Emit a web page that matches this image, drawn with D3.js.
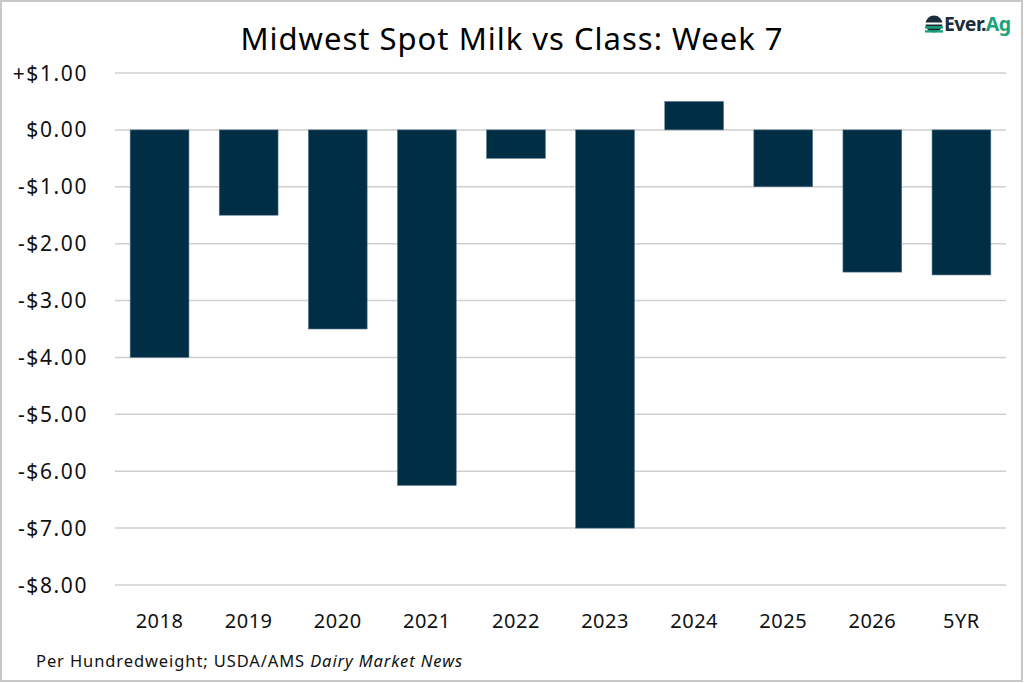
<html>
  <head>
    <script src="https://d3js.org/d3.v7.min.js"></script>
    <style>
      body { margin: 0; background: #fff; }
      text { font-family: "Noto Sans", "Open Sans", sans-serif; }
    </style>
  </head>
  <body>
    <svg id="chart" width="1024" height="683"></svg>
    <script>
      const categories = ["2018", "2019", "2020", "2021", "2022", "2023", "2024", "2025", "2026", "5YR"];
      const values = [-4.0, -1.5, -3.5, -6.25, -0.5, -7.0, 0.5, -1.0, -2.5, -2.55];
      const tickValues = [1, 0, -1, -2, -3, -4, -5, -6, -7, -8];

      const svg = d3.select("#chart");
      const barColor = "#002f45";

      // outer frame
      svg.append("rect")
        .attr("x", 1).attr("y", 1)
        .attr("width", 1021).attr("height", 680)
        .attr("fill", "#fff")
        .attr("stroke", "#c8c8c8")
        .attr("stroke-width", 2);

      const plotLeft = 115, plotRight = 1006, plotTop = 73, plotBottom = 585;

      const x = d3.scaleBand()
        .domain(categories)
        .range([plotLeft, plotRight])
        .paddingInner(0.34)
        .paddingOuter(0.17);
      const y = d3.scaleLinear()
        .domain([-8, 1])
        .range([plotBottom, plotTop]);

      // gridlines
      svg.append("g")
        .selectAll("line")
        .data(tickValues)
        .enter()
        .append("line")
        .attr("x1", plotLeft).attr("x2", plotRight)
        .attr("y1", d => y(d)).attr("y2", d => y(d))
        .attr("stroke", "#cfcfcf")
        .attr("stroke-width", 1.5);

      // y labels
      const fmt = d => (d > 0 ? "+$" : d < 0 ? "-$" : "$") + Math.abs(d).toFixed(2);
      svg.append("g")
        .selectAll("text")
        .data(tickValues)
        .enter()
        .append("text")
        .attr("x", 88)
        .attr("y", d => y(d))
        .attr("dy", "0.36em")
        .attr("text-anchor", "end")
        .attr("font-size", 21)
        .attr("letter-spacing", 1.6)
        .attr("fill", "#111")
        .text(fmt);

      // bars
      svg.append("g")
        .selectAll("rect")
        .data(values)
        .enter()
        .append("rect")
        .attr("x", (d, i) => x(categories[i]))
        .attr("y", d => y(Math.max(0, d)))
        .attr("width", x.bandwidth())
        .attr("height", d => Math.abs(y(d) - y(0)))
        .attr("fill", barColor)
        .attr("stroke", "#5b7a8c")
        .attr("stroke-width", 0.6);

      // x labels
      svg.append("g")
        .selectAll("text")
        .data(categories)
        .enter()
        .append("text")
        .attr("x", d => x(d) + x.bandwidth() / 2)
        .attr("y", 628)
        .attr("text-anchor", "middle")
        .attr("font-size", 20)
        .attr("letter-spacing", 0.5)
        .attr("fill", "#111")
        .text(d => d);

      // title
      svg.append("text")
        .attr("x", 512).attr("y", 50)
        .attr("text-anchor", "middle")
        .attr("font-size", 31)
        .attr("letter-spacing", 1.0)
        .attr("fill", "#000")
        .text("Midwest Spot Milk vs Class: Week 7");

      // footnote
      const foot = svg.append("text")
        .attr("x", 36).attr("y", 667)
        .attr("font-size", 16.5)
        .attr("letter-spacing", 0.9)
        .attr("fill", "#111");
      foot.append("tspan").text("Per Hundredweight; USDA/AMS ");
      foot.append("tspan").attr("font-style", "italic").text("Dairy Market News");

      // logo
      const logo = svg.append("g").attr("transform", "translate(934,24)");
      logo.append("circle").attr("cx", 0).attr("cy", 0).attr("r", 8.5).attr("fill", "#1c2d3a");
      logo.append("rect").attr("x", -9).attr("y", -1.5).attr("width", 18).attr("height", 2).attr("fill", "#fff");
      logo.append("rect").attr("x", -9).attr("y", 2.2).attr("width", 18).attr("height", 2.4).attr("fill", "#1aa37a");
      logo.append("rect").attr("x", -9).attr("y", 6.2).attr("width", 18).attr("height", 2.4).attr("fill", "#1aa37a");
      const lt = logo.append("text")
        .attr("x", 10).attr("y", 7)
        .attr("font-size", 19.5)
        .attr("font-weight", 700)
        .attr("letter-spacing", -0.6);
      lt.append("tspan").attr("fill", "#1c2d3a").text("Ever.");
      lt.append("tspan").attr("fill", "#1aa37a").text("Ag");
    </script>
  </body>
</html>
